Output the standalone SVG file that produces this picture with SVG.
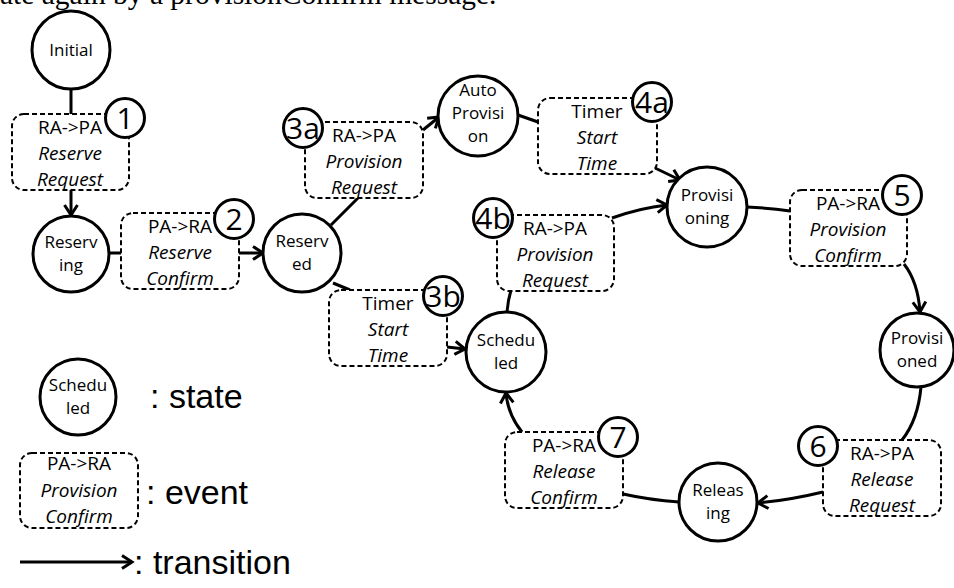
<svg xmlns="http://www.w3.org/2000/svg" width="954" height="588" viewBox="0 0 954 588">
<style>
  .st { fill: #fff; stroke: #000; stroke-width: 3; }
  .ev { fill: #fff; stroke: #000; stroke-width: 2; stroke-dasharray: 5 3; }
  .num { fill: #fff; stroke: #000; stroke-width: 3; }
  .cn { fill: none; stroke: #000; stroke-width: 3; }
  .arr { marker-end: url(#ah); }
  text { font-family: "Open Sans", "Noto Sans", sans-serif; fill: #000; text-anchor: middle; }
  .sl { font-size: 17px; }
  .el { font-size: 19px; }
  .ei { font-size: 19px; font-style: italic; }
  .nl { font-size: 30px; }
  .lg { font-family: "Liberation Sans", Arial, sans-serif; font-size: 34px; text-anchor: start; }
  .top { font-family: "Liberation Serif", "Times New Roman", serif; font-size: 29.5px; text-anchor: start; }
</style>
<defs>
  <marker id="ah" markerUnits="userSpaceOnUse" markerWidth="16" markerHeight="16" refX="13" refY="8" orient="auto">
    <path d="M3,1.5 L13,8 L3,14.5" fill="none" stroke="#000" stroke-width="3"/>
  </marker>
</defs>

<text class="top" x="0" y="4">ate again by a provisionConfirm message.</text>

<g id="connectors">
  <path class="cn" d="M71,89 V114"/>
  <path class="cn arr" d="M71,190 V215"/>
  <path class="cn" d="M109,253 H121"/>
  <path class="cn arr" d="M239,253 H263"/>
  <path class="cn" d="M331,225 L358,198"/>
  <path class="cn arr" d="M423,130 L439,117"/>
  <path class="cn" d="M518,115 L538,122"/>
  <path class="cn arr" d="M655,168 L680,180"/>
  <path class="cn" d="M333,283 L350,290"/>
  <path class="cn arr" d="M447,347 L465,349"/>
  <path class="cn" d="M507,312 Q508,300 511,290"/>
  <path class="cn arr" d="M612,218 Q640,208 667,205"/>
  <path class="cn" d="M747,207 Q770,208 790,211"/>
  <path class="cn arr" d="M904,264 Q918,282 920,312"/>
  <path class="cn" d="M921,387 Q918,420 902,440"/>
  <path class="cn arr" d="M823,492 Q790,500 758,503"/>
  <path class="cn" d="M679,502 Q650,500 623,494"/>
  <path class="cn arr" d="M522,432 Q508,415 506,393"/>
</g>

<g id="initial">
  <circle class="st" cx="71" cy="50" r="39"/>
  <text class="sl" x="71" y="56">Initial</text>
</g>
<g id="reserving">
  <circle class="st" cx="71" cy="254" r="38"/>
  <text class="sl" x="71" y="248">Reserv</text>
  <text class="sl" x="71" y="271">ing</text>
</g>
<g id="reserved">
  <circle class="st" cx="302" cy="253" r="39"/>
  <text class="sl" x="302" y="247">Reserv</text>
  <text class="sl" x="302" y="270">ed</text>
</g>
<g id="autoprovision">
  <circle class="st" cx="478" cy="116" r="40"/>
  <text class="sl" x="478" y="96">Auto</text>
  <text class="sl" x="478" y="119">Provisi</text>
  <text class="sl" x="478" y="142">on</text>
</g>
<g id="provisioning">
  <circle class="st" cx="707" cy="207" r="40"/>
  <text class="sl" x="707" y="201">Provisi</text>
  <text class="sl" x="707" y="224">oning</text>
</g>
<g id="provisioned">
  <circle class="st" cx="917" cy="350" r="37"/>
  <text class="sl" x="917" y="344">Provisi</text>
  <text class="sl" x="917" y="367">oned</text>
</g>
<g id="releasing">
  <circle class="st" cx="718" cy="502" r="39"/>
  <text class="sl" x="718" y="496">Releas</text>
  <text class="sl" x="718" y="519">ing</text>
</g>
<g id="scheduled">
  <circle class="st" cx="506" cy="352" r="40"/>
  <text class="sl" x="506" y="346">Schedu</text>
  <text class="sl" x="506" y="369">led</text>
</g>

<g id="ev1">
  <rect class="ev" x="12" y="114" width="117" height="76" rx="12"/>
  <text class="el" x="70" y="134">RA-&gt;PA</text>
  <text class="ei" x="70" y="160">Reserve</text>
  <text class="ei" x="70" y="186">Request</text>
  <circle class="num" cx="125" cy="118" r="19.5"/>
  <text class="nl" x="125" y="129">1</text>
</g>
<g id="ev2">
  <rect class="ev" x="121" y="213" width="118" height="76" rx="12"/>
  <text class="el" x="180" y="233">PA-&gt;RA</text>
  <text class="ei" x="180" y="259">Reserve</text>
  <text class="ei" x="180" y="285">Confirm</text>
  <circle class="num" cx="234" cy="219" r="19.5"/>
  <text class="nl" x="234" y="230">2</text>
</g>
<g id="ev3a">
  <rect class="ev" x="305" y="122" width="118" height="76" rx="12"/>
  <text class="el" x="364" y="142">RA-&gt;PA</text>
  <text class="ei" x="364" y="168">Provision</text>
  <text class="ei" x="364" y="194">Request</text>
  <circle class="num" cx="303" cy="128" r="19.5"/>
  <text class="nl" x="303" y="139">3a</text>
</g>
<g id="ev4a">
  <rect class="ev" x="538" y="98" width="119" height="76" rx="12"/>
  <text class="el" x="597" y="118">Timer</text>
  <text class="ei" x="597" y="144">Start</text>
  <text class="ei" x="597" y="170">Time</text>
  <circle class="num" cx="652" cy="102" r="19.5"/>
  <text class="nl" x="652" y="113">4a</text>
</g>
<g id="ev3b">
  <rect class="ev" x="329" y="290" width="118" height="76" rx="12"/>
  <text class="el" x="388" y="310">Timer</text>
  <text class="ei" x="388" y="336">Start</text>
  <text class="ei" x="388" y="362">Time</text>
  <circle class="num" cx="443" cy="296" r="19.5"/>
  <text class="nl" x="443" y="307">3b</text>
</g>
<g id="ev4b">
  <rect class="ev" x="497" y="215" width="117" height="76" rx="12"/>
  <text class="el" x="555" y="235">RA-&gt;PA</text>
  <text class="ei" x="555" y="261">Provision</text>
  <text class="ei" x="555" y="287">Request</text>
  <circle class="num" cx="493" cy="218" r="19.5"/>
  <text class="nl" x="493" y="229">4b</text>
</g>
<g id="ev5">
  <rect class="ev" x="790" y="190" width="117" height="76" rx="12"/>
  <text class="el" x="848" y="210">PA-&gt;RA</text>
  <text class="ei" x="848" y="236">Provision</text>
  <text class="ei" x="848" y="262">Confirm</text>
  <circle class="num" cx="902" cy="195" r="19.5"/>
  <text class="nl" x="902" y="206">5</text>
</g>
<g id="ev6">
  <rect class="ev" x="823" y="440" width="118" height="76" rx="12"/>
  <text class="el" x="882" y="460">RA-&gt;PA</text>
  <text class="ei" x="882" y="486">Release</text>
  <text class="ei" x="882" y="512">Request</text>
  <circle class="num" cx="818" cy="446" r="19.5"/>
  <text class="nl" x="818" y="457">6</text>
</g>
<g id="ev7">
  <rect class="ev" x="505" y="432" width="118" height="76" rx="12"/>
  <text class="el" x="564" y="452">PA-&gt;RA</text>
  <text class="ei" x="564" y="478">Release</text>
  <text class="ei" x="564" y="504">Confirm</text>
  <circle class="num" cx="618" cy="437" r="19.5"/>
  <text class="nl" x="618" y="448">7</text>
</g>

<g id="legend-state">
  <circle class="st" cx="78" cy="397" r="38"/>
  <text class="sl" x="78" y="391">Schedu</text>
  <text class="sl" x="78" y="414">led</text>
  <text class="lg" x="150" y="408">: state</text>
</g>
<g id="legend-event">
  <rect class="ev" x="20" y="453" width="118" height="75" rx="12"/>
  <text class="el" x="79" y="470">PA-&gt;RA</text>
  <text class="ei" x="79" y="497">Provision</text>
  <text class="ei" x="79" y="523">Confirm</text>
  <text class="lg" x="146" y="504">: event</text>
</g>
<g id="legend-transition">
  <path class="cn arr" d="M20,562 H132"/>
  <text class="lg" x="134" y="574">: transition</text>
</g>
</svg>
